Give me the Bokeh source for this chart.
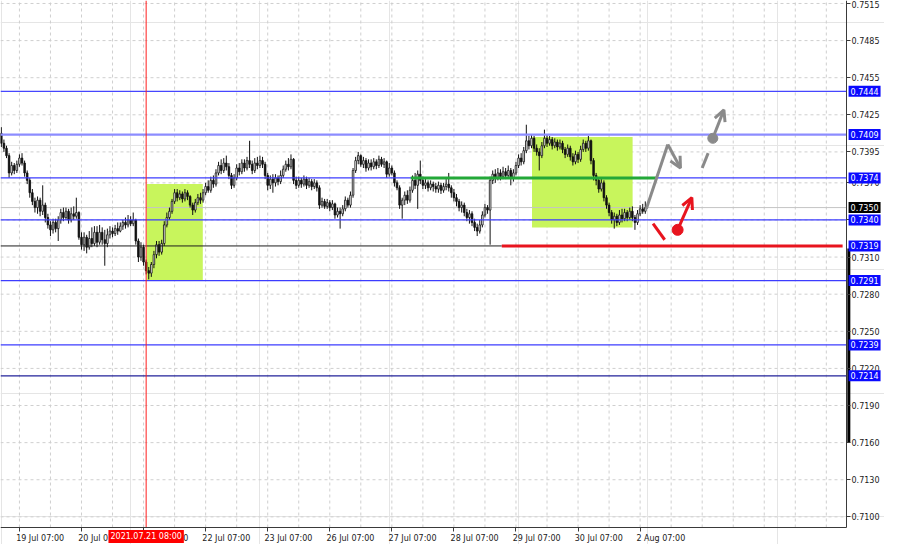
from bokeh.plotting import figure
from bokeh.models import (Range1d, LinearAxis, FixedTicker, Label, Arrow,
                          OpenHead, ColumnDataSource, NumeralTickFormatter)
from bokeh.embed import file_html
from bokeh.resources import INLINE

# ---------------- DATA (H1 bars, bar 0 = 19 Jul 00:00) ----------------
opens = [
    0.7410, 0.7402, 0.7398, 0.7392, 0.7378, 0.7384, 0.7380, 0.7385, 0.7390, 0.7386,
    0.7378, 0.7372, 0.7362, 0.7355, 0.7350, 0.7356, 0.7347, 0.7352, 0.7342, 0.7336,
    0.7332, 0.7338, 0.7333, 0.7340, 0.7346, 0.7342, 0.7347, 0.7340, 0.7345, 0.7343,
    0.7346, 0.7326, 0.7320, 0.7326, 0.7318, 0.7325, 0.7321, 0.7330, 0.7322, 0.7330,
    0.7324, 0.7321, 0.7328, 0.7331, 0.7329, 0.7333, 0.7331, 0.7335, 0.7338, 0.7336,
    0.7340, 0.7337, 0.7340, 0.7323, 0.7310, 0.7318, 0.7306, 0.7299, 0.7297, 0.7304,
    0.7312, 0.7320, 0.7314, 0.7321, 0.7336, 0.7342, 0.7347, 0.7355, 0.7362, 0.7358,
    0.7361, 0.7357, 0.7362, 0.7359, 0.7352, 0.7348, 0.7354, 0.7358, 0.7356, 0.7362,
    0.7367, 0.7364, 0.7372, 0.7369, 0.7378, 0.7384, 0.7380, 0.7386, 0.7383, 0.7376,
    0.7368, 0.7374, 0.7382, 0.7379, 0.7386, 0.7382, 0.7388, 0.7385, 0.7380, 0.7386,
    0.7384, 0.7388, 0.7385, 0.7376, 0.7368, 0.7373, 0.7370, 0.7374, 0.7371, 0.7376,
    0.7381, 0.7385, 0.7383, 0.7389, 0.7372, 0.7368, 0.7372, 0.7369, 0.7373, 0.7368,
    0.7371, 0.7367, 0.7370, 0.7366, 0.7352, 0.7355, 0.7351, 0.7354, 0.7350, 0.7353,
    0.7344, 0.7347, 0.7345, 0.7349, 0.7356, 0.7352, 0.7360, 0.7380, 0.7388, 0.7392,
    0.7385, 0.7388, 0.7382, 0.7386, 0.7383, 0.7387, 0.7384, 0.7389, 0.7385, 0.7387,
    0.7377, 0.7382, 0.7378, 0.7370, 0.7366, 0.7352, 0.7356, 0.7360, 0.7356, 0.7364,
    0.7372, 0.7368, 0.7377, 0.7372, 0.7368, 0.7370, 0.7366, 0.7369, 0.7367, 0.7365,
    0.7368, 0.7364, 0.7367, 0.7369, 0.7366, 0.7362, 0.7358, 0.7355, 0.7350, 0.7352,
    0.7346, 0.7342, 0.7345, 0.7338, 0.7334, 0.7331, 0.7336, 0.7344, 0.7350, 0.7348,
    0.7372, 0.7377, 0.7374, 0.7378, 0.7375, 0.7379, 0.7376, 0.7380, 0.7374, 0.7378,
    0.7384, 0.7390, 0.7387, 0.7396, 0.7404, 0.7400, 0.7406, 0.7398, 0.7395, 0.7392,
    0.7400, 0.7406, 0.7402, 0.7405, 0.7400, 0.7403, 0.7399, 0.7402, 0.7397, 0.7393,
    0.7398, 0.7391, 0.7387, 0.7393, 0.7389, 0.7397, 0.7402, 0.7398, 0.7404, 0.7388,
    0.7376, 0.7372, 0.7365, 0.7370, 0.7358, 0.7352, 0.7346, 0.7340, 0.7343, 0.7338,
    0.7344, 0.7341, 0.7346, 0.7342, 0.7347, 0.7342, 0.7338, 0.7345, 0.7349, 0.7347,
]
closes = [
    0.7402, 0.7398, 0.7392, 0.7378, 0.7384, 0.7380, 0.7385, 0.7390, 0.7386, 0.7378,
    0.7372, 0.7362, 0.7355, 0.7350, 0.7356, 0.7347, 0.7352, 0.7342, 0.7336, 0.7332,
    0.7338, 0.7333, 0.7340, 0.7346, 0.7342, 0.7347, 0.7340, 0.7345, 0.7343, 0.7346,
    0.7326, 0.7320, 0.7326, 0.7318, 0.7325, 0.7321, 0.7330, 0.7322, 0.7330, 0.7324,
    0.7321, 0.7328, 0.7331, 0.7329, 0.7333, 0.7331, 0.7335, 0.7338, 0.7336, 0.7340,
    0.7337, 0.7340, 0.7323, 0.7310, 0.7318, 0.7306, 0.7299, 0.7297, 0.7304, 0.7312,
    0.7320, 0.7314, 0.7321, 0.7336, 0.7342, 0.7347, 0.7355, 0.7362, 0.7358, 0.7361,
    0.7357, 0.7362, 0.7359, 0.7352, 0.7348, 0.7354, 0.7358, 0.7356, 0.7362, 0.7367,
    0.7364, 0.7372, 0.7369, 0.7378, 0.7384, 0.7380, 0.7386, 0.7383, 0.7376, 0.7368,
    0.7374, 0.7382, 0.7379, 0.7386, 0.7382, 0.7388, 0.7385, 0.7380, 0.7386, 0.7384,
    0.7388, 0.7385, 0.7376, 0.7368, 0.7373, 0.7370, 0.7374, 0.7371, 0.7376, 0.7381,
    0.7385, 0.7383, 0.7389, 0.7372, 0.7368, 0.7372, 0.7369, 0.7373, 0.7368, 0.7371,
    0.7367, 0.7370, 0.7366, 0.7352, 0.7355, 0.7351, 0.7354, 0.7350, 0.7353, 0.7344,
    0.7347, 0.7345, 0.7349, 0.7356, 0.7352, 0.7360, 0.7380, 0.7388, 0.7392, 0.7385,
    0.7388, 0.7382, 0.7386, 0.7383, 0.7387, 0.7384, 0.7389, 0.7385, 0.7387, 0.7377,
    0.7382, 0.7378, 0.7370, 0.7366, 0.7352, 0.7356, 0.7360, 0.7356, 0.7364, 0.7372,
    0.7368, 0.7377, 0.7372, 0.7368, 0.7370, 0.7366, 0.7369, 0.7367, 0.7365, 0.7368,
    0.7364, 0.7367, 0.7369, 0.7366, 0.7362, 0.7358, 0.7355, 0.7350, 0.7352, 0.7346,
    0.7342, 0.7345, 0.7338, 0.7334, 0.7331, 0.7336, 0.7344, 0.7350, 0.7348, 0.7372,
    0.7377, 0.7374, 0.7378, 0.7375, 0.7379, 0.7376, 0.7380, 0.7374, 0.7378, 0.7384,
    0.7390, 0.7387, 0.7396, 0.7404, 0.7400, 0.7406, 0.7398, 0.7395, 0.7392, 0.7400,
    0.7406, 0.7402, 0.7405, 0.7400, 0.7403, 0.7399, 0.7402, 0.7397, 0.7393, 0.7398,
    0.7391, 0.7387, 0.7393, 0.7389, 0.7397, 0.7402, 0.7398, 0.7404, 0.7388, 0.7376,
    0.7372, 0.7365, 0.7370, 0.7358, 0.7352, 0.7346, 0.7340, 0.7343, 0.7338, 0.7344,
    0.7341, 0.7346, 0.7342, 0.7347, 0.7342, 0.7338, 0.7345, 0.7349, 0.7347, 0.7350,
]
highs = [
    0.7415, 0.7405, 0.7400, 0.7394, 0.7387, 0.7386, 0.7388, 0.7393, 0.7394, 0.7388,
    0.7380, 0.7374, 0.7365, 0.7358, 0.7359, 0.7358, 0.7368, 0.7354, 0.7345, 0.7339,
    0.7341, 0.7341, 0.7343, 0.7349, 0.7350, 0.7350, 0.7349, 0.7350, 0.7351, 0.7358,
    0.7347, 0.7330, 0.7330, 0.7328, 0.7331, 0.7334, 0.7335, 0.7335, 0.7336, 0.7334,
    0.7332, 0.7333, 0.7335, 0.7334, 0.7336, 0.7338, 0.7338, 0.7340, 0.7342, 0.7344,
    0.7343, 0.7346, 0.7341, 0.7325, 0.7322, 0.7320, 0.7308, 0.7302, 0.7306, 0.7315,
    0.7323, 0.7323, 0.7324, 0.7339, 0.7346, 0.7350, 0.7357, 0.7365, 0.7365, 0.7364,
    0.7363, 0.7365, 0.7364, 0.7360, 0.7354, 0.7357, 0.7361, 0.7362, 0.7365, 0.7370,
    0.7372, 0.7375, 0.7376, 0.7381, 0.7387, 0.7389, 0.7390, 0.7392, 0.7386, 0.7378,
    0.7377, 0.7385, 0.7386, 0.7389, 0.7389, 0.7391, 0.7404, 0.7388, 0.7390, 0.7391,
    0.7392, 0.7391, 0.7387, 0.7378, 0.7376, 0.7377, 0.7377, 0.7376, 0.7380, 0.7384,
    0.7388, 0.7390, 0.7393, 0.7390, 0.7375, 0.7375, 0.7374, 0.7376, 0.7375, 0.7374,
    0.7373, 0.7373, 0.7372, 0.7368, 0.7358, 0.7357, 0.7357, 0.7356, 0.7356, 0.7354,
    0.7350, 0.7350, 0.7352, 0.7359, 0.7358, 0.7363, 0.7382, 0.7391, 0.7395, 0.7393,
    0.7391, 0.7390, 0.7389, 0.7389, 0.7390, 0.7389, 0.7392, 0.7391, 0.7390, 0.7388,
    0.7386, 0.7384, 0.7380, 0.7372, 0.7368, 0.7358, 0.7363, 0.7364, 0.7367, 0.7376,
    0.7378, 0.7380, 0.7388, 0.7375, 0.7373, 0.7372, 0.7372, 0.7371, 0.7370, 0.7371,
    0.7370, 0.7370, 0.7373, 0.7378, 0.7368, 0.7365, 0.7361, 0.7357, 0.7355, 0.7354,
    0.7349, 0.7348, 0.7347, 0.7341, 0.7337, 0.7340, 0.7347, 0.7353, 0.7352, 0.7375,
    0.7380, 0.7381, 0.7382, 0.7381, 0.7383, 0.7382, 0.7384, 0.7382, 0.7381, 0.7387,
    0.7393, 0.7394, 0.7399, 0.7417, 0.7408, 0.7409, 0.7408, 0.7401, 0.7398, 0.7403,
    0.7413, 0.7409, 0.7408, 0.7407, 0.7406, 0.7405, 0.7405, 0.7404, 0.7399, 0.7401,
    0.7400, 0.7394, 0.7396, 0.7395, 0.7400, 0.7405, 0.7404, 0.7408, 0.7405, 0.7390,
    0.7378, 0.7374, 0.7373, 0.7372, 0.7360, 0.7354, 0.7348, 0.7346, 0.7345, 0.7348,
    0.7349, 0.7349, 0.7348, 0.7350, 0.7351, 0.7344, 0.7348, 0.7352, 0.7353, 0.7355,
]
lows = [
    0.7399, 0.7395, 0.7390, 0.7374, 0.7376, 0.7377, 0.7378, 0.7383, 0.7384, 0.7375,
    0.7369, 0.7358, 0.7352, 0.7346, 0.7345, 0.7343, 0.7344, 0.7338, 0.7333, 0.7327,
    0.7329, 0.7330, 0.7323, 0.7337, 0.7339, 0.7340, 0.7337, 0.7338, 0.7340, 0.7341,
    0.7324, 0.7316, 0.7315, 0.7313, 0.7316, 0.7318, 0.7319, 0.7318, 0.7320, 0.7320,
    0.7303, 0.7318, 0.7325, 0.7326, 0.7327, 0.7328, 0.7330, 0.7332, 0.7333, 0.7334,
    0.7335, 0.7335, 0.7320, 0.7306, 0.7307, 0.7303, 0.7296, 0.7292, 0.7294, 0.7301,
    0.7309, 0.7311, 0.7312, 0.7319, 0.7334, 0.7340, 0.7345, 0.7353, 0.7355, 0.7356,
    0.7354, 0.7355, 0.7356, 0.7350, 0.7344, 0.7346, 0.7352, 0.7353, 0.7354, 0.7360,
    0.7362, 0.7362, 0.7366, 0.7367, 0.7376, 0.7377, 0.7378, 0.7380, 0.7373, 0.7365,
    0.7366, 0.7372, 0.7376, 0.7377, 0.7379, 0.7380, 0.7382, 0.7377, 0.7378, 0.7381,
    0.7382, 0.7382, 0.7373, 0.7364, 0.7365, 0.7362, 0.7367, 0.7368, 0.7369, 0.7374,
    0.7379, 0.7380, 0.7381, 0.7369, 0.7365, 0.7366, 0.7366, 0.7367, 0.7365, 0.7366,
    0.7364, 0.7365, 0.7363, 0.7349, 0.7350, 0.7349, 0.7349, 0.7347, 0.7348, 0.7341,
    0.7342, 0.7333, 0.7343, 0.7347, 0.7350, 0.7350, 0.7358, 0.7378, 0.7385, 0.7383,
    0.7382, 0.7379, 0.7380, 0.7380, 0.7381, 0.7381, 0.7382, 0.7383, 0.7382, 0.7374,
    0.7375, 0.7376, 0.7367, 0.7364, 0.7349, 0.7341, 0.7352, 0.7353, 0.7354, 0.7362,
    0.7365, 0.7349, 0.7369, 0.7365, 0.7365, 0.7363, 0.7364, 0.7363, 0.7362, 0.7362,
    0.7361, 0.7362, 0.7364, 0.7363, 0.7358, 0.7355, 0.7351, 0.7347, 0.7346, 0.7343,
    0.7339, 0.7337, 0.7335, 0.7331, 0.7327, 0.7329, 0.7334, 0.7342, 0.7345, 0.7320,
    0.7369, 0.7370, 0.7372, 0.7372, 0.7373, 0.7373, 0.7374, 0.7368, 0.7371, 0.7376,
    0.7382, 0.7384, 0.7385, 0.7394, 0.7397, 0.7398, 0.7395, 0.7392, 0.7380, 0.7390,
    0.7398, 0.7399, 0.7400, 0.7397, 0.7398, 0.7396, 0.7397, 0.7394, 0.7390, 0.7391,
    0.7388, 0.7384, 0.7385, 0.7386, 0.7387, 0.7395, 0.7395, 0.7396, 0.7385, 0.7372,
    0.7368, 0.7362, 0.7363, 0.7355, 0.7349, 0.7343, 0.7337, 0.7333, 0.7335, 0.7336,
    0.7338, 0.7339, 0.7339, 0.7340, 0.7339, 0.7332, 0.7336, 0.7343, 0.7345, 0.7345,
]

# time axis (bar index of each label) and labels
time_tick_bars = [7, 31, 55, 79, 103, 127, 151, 175, 199, 223, 247]
time_tick_labels = ["19 Jul 07:00", "20 Jul 07:00", "21 Jul 07:00", "22 Jul 07:00",
                    "23 Jul 07:00", "26 Jul 07:00", "27 Jul 07:00", "28 Jul 07:00",
                    "29 Jul 07:00", "30 Jul 07:00", "2 Aug 07:00"]
grid_bars = [7, 19, 31, 43, 55, 67, 79, 91, 103, 115, 127, 139, 151, 163, 175, 187,
             199, 211, 223, 235, 247, 259, 271, 283, 295, 307, 319]
price_ticks = [0.7515, 0.7485, 0.7455, 0.7425, 0.7395, 0.7370, 0.7340, 0.7310,
               0.7280, 0.7250, 0.7220, 0.7190, 0.7160, 0.7130, 0.7100]

# horizontal levels
blue_levels = [0.7444, 0.7409, 0.7374, 0.7340, 0.7291, 0.7239, 0.7214]
blue_colors = ["#4646ff", "#8c8cff", "#3c3cff", "#3c3cff", "#3c3cff", "#3c3cff", "#22229a"]
blue_widths = [1.2, 2.2, 1.2, 1.2, 1.2, 1.2, 1.2]
support_level = 0.7319
bid_price = 0.7350
marked_bar = 56            # 2021.07.21 08:00
marked_text = "2021.07.21 08:00"

# highlighted zones (bar index / price)
zone_left = [56.2, 205.2]
zone_right = [77.9, 244.1]
zone_top = [0.7369, 0.7407]
zone_bottom = [0.7291, 0.7334]

# level segments (bar index)
green_x = [158.3, 253.2]
red_x = [193.5, 325.3]
black_x = [-0.32, 193.5]
scale_mark = [0.7317, 0.7160]

# forecast sketches
gray_path_x = [249.4, 257.7, 262.6]
gray_path_y = [0.7349, 0.7401, 0.7382]
gray_dash_x = [271.0, 273.3]
gray_dash_y = [0.7382, 0.7394]
gray_dot = (275.1, 0.7406)
gray_arrow_end = (279.4, 0.7429)
red_dash_x = [252.0, 256.5]
red_dash_y = [0.7337, 0.7324]
red_dot = (261.5, 0.7332)
red_arrow_end = (267.0, 0.7358)

# chart window (plot area) and the whole canvas incl. price / time scales
X_START, X_END = -0.32, 326.8
Y_START, Y_END = 0.70914, 0.75174
W, H = 884, 544
PLOT_W, PLOT_H = 846, 527
px_x = PLOT_W / (X_END - X_START)
px_y = PLOT_H / (Y_END - Y_START)
X_CANVAS = X_START + W / px_x
Y_CANVAS = Y_END - H / px_y

FONT = "DejaVu Sans"
BLUE_BG = "#0a0aff"
RED = "#e8141e"
GRAY = "#8a8a8a"
AX = "#3a3a3a"

p = figure(width=W, height=H, x_range=Range1d(X_START, X_CANVAS),
           y_range=Range1d(Y_CANVAS, Y_END), output_backend="svg",
           toolbar_location=None, x_axis_location=None, y_axis_location=None,
           min_border=0, background_fill_color="white",
           border_fill_color="white", outline_line_color=None)

# price scale (drawn at the right edge of the chart window)
yaxis = LinearAxis(ticker=FixedTicker(ticks=price_ticks), fixed_location=X_END,
                   formatter=NumeralTickFormatter(format="0.0000"))
yaxis.axis_line_color = AX
yaxis.major_tick_line_color = AX
yaxis.major_tick_out = 4
yaxis.major_tick_in = 0
yaxis.minor_tick_line_color = None
yaxis.major_label_standoff = 1
yaxis.major_label_text_font = FONT
yaxis.major_label_text_font_size = "8px"
yaxis.major_label_text_color = "#1a1a1a"
p.add_layout(yaxis, "right")

# time scale (drawn at the bottom edge of the chart window)
label_pos = [b + 8 for b in time_tick_bars]
xaxis = LinearAxis(ticker=FixedTicker(ticks=label_pos, minor_ticks=time_tick_bars),
                   fixed_location=Y_START,
                   major_label_overrides={lp: t for lp, t in zip(label_pos, time_tick_labels)})
xaxis.axis_line_color = AX
xaxis.major_tick_line_color = None
xaxis.minor_tick_line_color = AX
xaxis.minor_tick_out = 4
xaxis.minor_tick_in = 0
xaxis.major_label_standoff = 0
xaxis.major_label_text_font = FONT
xaxis.major_label_text_font_size = "8px"
xaxis.major_label_text_color = "#1a1a1a"
p.add_layout(xaxis, "below")
xaxis.bounds = (X_START, X_END)
yaxis.bounds = (Y_START, Y_END)

# grid (dashed) inside the chart window
GRID = "#cfcfcf"
p.segment(x0=grid_bars, x1=grid_bars, y0=[Y_START] * len(grid_bars),
          y1=[Y_END] * len(grid_bars), line_color=GRID, line_dash="3 3", line_width=1)
p.segment(x0=[X_START] * len(price_ticks), x1=[X_END] * len(price_ticks),
          y0=price_ticks, y1=price_ticks, line_color=GRID, line_dash="3 3", line_width=1)

# zones
p.quad(left=zone_left, right=zone_right, top=zone_top, bottom=zone_bottom,
       fill_color="#c8f55c", line_color=None)

# bid line
p.segment(x0=[X_START], x1=[X_END], y0=[bid_price], y1=[bid_price],
          line_color="#c4c4c4", line_width=1)

# candles
n = len(closes)
bars = list(range(n))
src = ColumnDataSource(dict(x=bars, o=opens, h=highs, l=lows, c=closes))
p.segment(x0="x", y0="l", x1="x", y1="h", source=src, line_color="#111111", line_width=1)
up = [i for i in bars if closes[i] >= opens[i]]
dn = [i for i in bars if closes[i] < opens[i]]
p.vbar(x=up, width=0.62, top=[closes[i] for i in up], bottom=[opens[i] for i in up],
       fill_color="white", line_color="#111111", line_width=0.8)
p.vbar(x=dn, width=0.62, top=[opens[i] for i in dn], bottom=[closes[i] for i in dn],
       fill_color="#111111", line_color="#111111", line_width=0.8)

# levels
nb = len(blue_levels)
p.segment(x0=[X_START] * nb, x1=[X_END] * nb, y0=blue_levels, y1=blue_levels,
          line_color=blue_colors, line_width=blue_widths)
p.segment(x0=[black_x[0]], x1=[black_x[1]], y0=[support_level], y1=[support_level],
          line_color="#1e1e1e", line_width=1)
p.segment(x0=[red_x[0]], x1=[red_x[1]], y0=[support_level], y1=[support_level],
          line_color=RED, line_width=3)
p.segment(x0=[green_x[0]], x1=[green_x[1]], y0=[blue_levels[2]], y1=[blue_levels[2]],
          line_color="#23a838", line_width=3)
p.segment(x0=[marked_bar], x1=[marked_bar], y0=[Y_START], y1=[Y_END],
          line_color="#ff1e1e", line_width=1)

# mark on the price scale
p.segment(x0=[X_END + 0.9], x1=[X_END + 0.9], y0=[scale_mark[0]], y1=[scale_mark[1]],
          line_color="black", line_width=3)

# forecast sketches
p.line(gray_path_x[:2], gray_path_y[:2], line_color=GRAY, line_width=3)
p.add_layout(Arrow(end=OpenHead(size=11, line_color=GRAY, line_width=3),
                   x_start=gray_path_x[1], y_start=gray_path_y[1],
                   x_end=gray_path_x[2], y_end=gray_path_y[2],
                   line_color=GRAY, line_width=3))
p.line(gray_dash_x, gray_dash_y, line_color=GRAY, line_width=3)
p.scatter([gray_dot[0]], [gray_dot[1]], size=10, fill_color=GRAY, line_color=GRAY)
p.add_layout(Arrow(end=OpenHead(size=11, line_color=GRAY, line_width=3),
                   x_start=gray_dot[0], y_start=gray_dot[1],
                   x_end=gray_arrow_end[0], y_end=gray_arrow_end[1],
                   line_color=GRAY, line_width=3))
p.line(red_dash_x, red_dash_y, line_color=RED, line_width=3)
p.scatter([red_dot[0]], [red_dot[1]], size=11, fill_color=RED, line_color=RED)
p.add_layout(Arrow(end=OpenHead(size=11, line_color=RED, line_width=3),
                   x_start=red_dot[0], y_start=red_dot[1],
                   x_end=red_arrow_end[0], y_end=red_arrow_end[1],
                   line_color=RED, line_width=3))

# price tags on the scale
label_x = X_END + 0.8
for lvl in blue_levels + [support_level]:
    p.add_layout(Label(x=label_x, y=lvl, text=f"{lvl:.4f}", text_align="left",
                       text_baseline="middle", text_color="white", text_font=FONT,
                       text_font_size="8px", background_fill_color=BLUE_BG,
                       padding=2))
p.add_layout(Label(x=label_x, y=bid_price, text=f"{bid_price:.4f}", text_align="left",
                   text_baseline="middle", text_color="white", text_font=FONT,
                   text_font_size="8px", background_fill_color="black", padding=2))
# time tag
p.add_layout(Label(x=marked_bar, y=Y_START - 9 / px_y, text=marked_text,
                   text_align="center", text_baseline="middle", text_color="white",
                   text_font=FONT, text_font_size="8px",
                   background_fill_color="#ff0000", padding=2))

open("out.html", "w").write(file_html(p, INLINE))
